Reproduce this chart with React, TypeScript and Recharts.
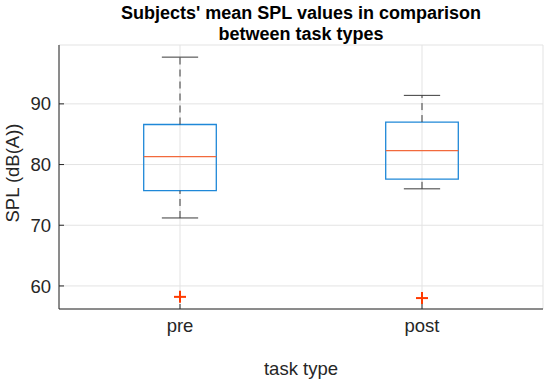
import React from 'react';
import {
    ComposedChart, XAxis, YAxis, CartesianGrid, ReferenceArea, ReferenceLine, Scatter, Label,
} from 'recharts';

const categories = ['pre', 'post'];
const positions = [1, 2];
const lowerWhisker = [71.2, 76.0];
const q1 = [75.7, 77.6];
const median = [81.3, 82.3];
const q3 = [86.6, 87.0];
const upperWhisker = [97.7, 91.4];
const outliers = [58.2, 58.0];
const yTicks = [60, 70, 80, 90];

const FONT = '"Liberation Sans", Arial, Helvetica, sans-serif';
const AXIS = '#262626';
const BOX = '#1f88d8';
const MED = '#f26a3c';
const OUT = '#ff3a00';
const WHISK = '#3a3a3a';
const BOX_HALF = 0.15;
const CAP_HALF = 0.075;

const outlierData = positions.map((p, i) => ({ pos: p, val: outliers[i] }));

const Cross = (props: any) => {
    const { cx, cy } = props;
    if (cx == null || cy == null) return null;
    return (
        <g stroke={OUT} strokeWidth={2}>
            <line x1={cx - 6} x2={cx + 6} y1={cy} y2={cy} />
            <line x1={cx} x2={cx} y1={cy - 6} y2={cy + 6} />
        </g>
    );
};

const App: React.FC = () => {
    return (
        <div style={{ position: 'fixed', left: 0, top: 0, width: 550, height: 384, background: '#fff', fontFamily: FONT }}>
            <div style={{ position: 'absolute', left: 29, width: 544, top: 2.5, textAlign: 'center', fontWeight: 'bold', fontSize: 18, lineHeight: '21px', color: '#000' }}>
                Subjects' mean SPL values in comparison<br />between task types
            </div>
            <ComposedChart width={550} height={384} margin={{ top: 45, right: 7, bottom: 0, left: 0 }}>
                <CartesianGrid stroke="#e3e3e3" />
                <XAxis
                    type="number"
                    dataKey="pos"
                    domain={[0.5, 2.5]}
                    ticks={positions}
                    tickFormatter={(v: number) => categories[positions.indexOf(v)] ?? ''}
                    height={75}
                    tickSize={-5}
                    tickMargin={15}
                    stroke={AXIS}
                    tick={{ fill: '#262626', fontSize: 18.5, fontFamily: FONT }}
                    allowDataOverflow
                >
                    <Label value="task type" position="insideBottom" offset={9} style={{ fontSize: 18.5, fontFamily: FONT, fill: '#262626' }} />
                </XAxis>
                <XAxis xAxisId="top" orientation="top" type="number" domain={[0.5, 2.5]} ticks={positions} height={0} tick={false} tickSize={-5} stroke={AXIS} allowDataOverflow />
                <YAxis
                    type="number"
                    domain={[56.2, 99.7]}
                    ticks={yTicks}
                    width={59}
                    tickSize={-5}
                    tickMargin={13}
                    stroke={AXIS}
                    tick={{ fill: '#262626', fontSize: 18.5, fontFamily: FONT }}
                    allowDataOverflow
                >
                    <Label
                        content={({ viewBox }: any) => {
                            const cy = viewBox.y + viewBox.height / 2 - 4;
                            const x = 18.5;
                            return (
                                <text x={x} y={cy} transform={`rotate(-90, ${x}, ${cy})`} textAnchor="middle" fontSize={18.5} fontFamily={FONT} fill="#262626">
                                    SPL (dB(A))
                                </text>
                            );
                        }}
                    />
                </YAxis>
                <YAxis yAxisId="r" orientation="right" type="number" domain={[56.2, 99.7]} ticks={yTicks} width={0} tick={false} tickSize={-5} stroke={AXIS} allowDataOverflow />

                {positions.map((p, i) => (
                    <ReferenceLine key={`wu-${i}`} segment={[{ x: p, y: q3[i] }, { x: p, y: upperWhisker[i] }]} stroke={WHISK} strokeDasharray="7 5" />
                ))}
                {positions.map((p, i) => (
                    <ReferenceLine key={`wl-${i}`} segment={[{ x: p, y: lowerWhisker[i] }, { x: p, y: q1[i] }]} stroke={WHISK} strokeDasharray="7 5" />
                ))}
                {positions.map((p, i) => (
                    <ReferenceLine key={`cu-${i}`} segment={[{ x: p - CAP_HALF, y: upperWhisker[i] }, { x: p + CAP_HALF, y: upperWhisker[i] }]} stroke={WHISK} />
                ))}
                {positions.map((p, i) => (
                    <ReferenceLine key={`cl-${i}`} segment={[{ x: p - CAP_HALF, y: lowerWhisker[i] }, { x: p + CAP_HALF, y: lowerWhisker[i] }]} stroke={WHISK} />
                ))}
                {positions.map((p, i) => (
                    <ReferenceArea key={`box-${i}`} x1={p - BOX_HALF} x2={p + BOX_HALF} y1={q1[i]} y2={q3[i]} fill="none" fillOpacity={0} stroke={BOX} strokeWidth={1.3} />
                ))}
                {positions.map((p, i) => (
                    <ReferenceLine key={`med-${i}`} segment={[{ x: p - BOX_HALF, y: median[i] }, { x: p + BOX_HALF, y: median[i] }]} stroke={MED} strokeWidth={1.3} />
                ))}
                <Scatter data={outlierData} dataKey="val" shape={<Cross />} isAnimationActive={false} />
            </ComposedChart>
        </div>
    );
};

export default App;
